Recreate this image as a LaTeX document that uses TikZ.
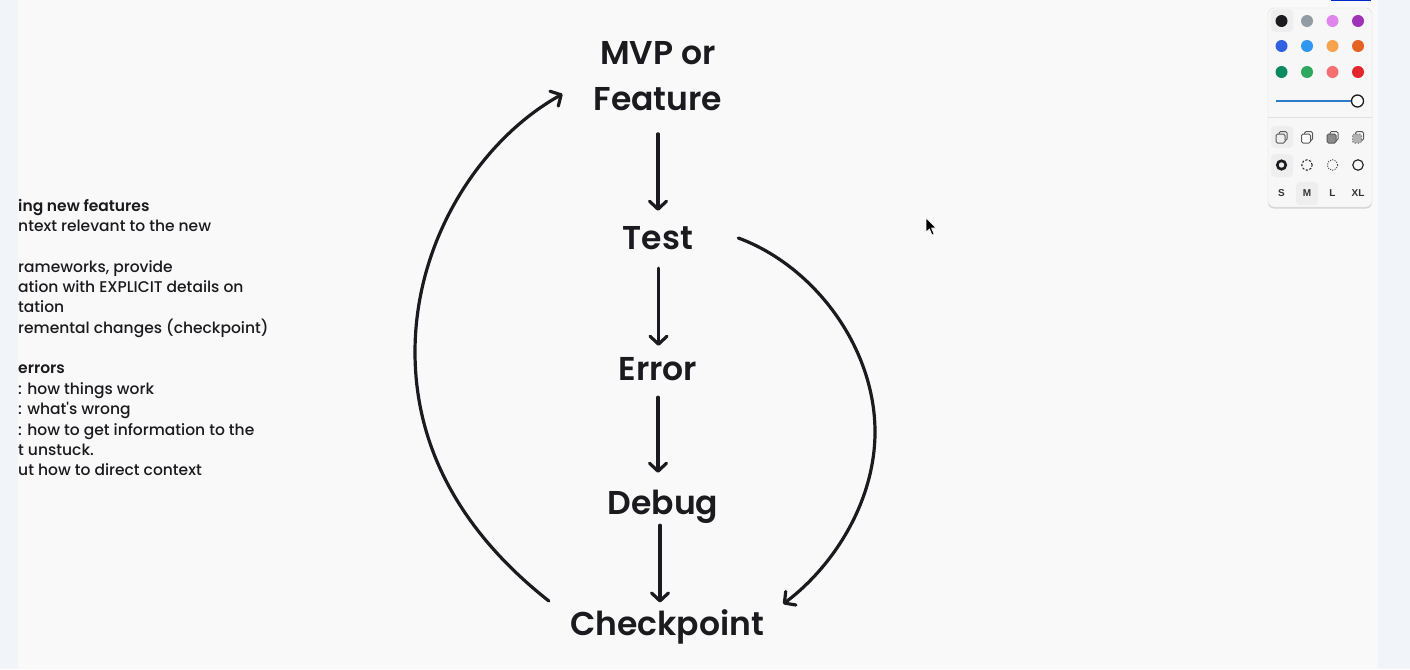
\documentclass[tikz,border=0pt]{standalone}
\usepackage{fontspec}
\usetikzlibrary{arrows.meta,shadows}
\newfontfamily\handfont{Poppins Medium}[BoldFont=Poppins SemiBold]
\setsansfont{Liberation Sans}
\definecolor{pagebg}{HTML}{F9F9F9}
\definecolor{stripbg}{HTML}{F1F5F9}
\definecolor{inkc}{HTML}{1B1B1F}
\definecolor{dotgray}{HTML}{929CA3}
\definecolor{dotpink}{HTML}{E085EC}
\definecolor{dotviolet}{HTML}{A032B8}
\definecolor{dotblue}{HTML}{3160E0}
\definecolor{dotsky}{HTML}{2F97EE}
\definecolor{dotamber}{HTML}{F5A34F}
\definecolor{dotorange}{HTML}{E46323}
\definecolor{dotteal}{HTML}{098A60}
\definecolor{dotgreen}{HTML}{2EA85C}
\definecolor{dotcoral}{HTML}{F76F72}
\definecolor{dotred}{HTML}{E3262E}
\definecolor{sliderc}{HTML}{2A7CC8}
\definecolor{selbg}{HTML}{EEEEEE}
\begin{document}
\begin{tikzpicture}[x=1pt,y=-1pt,every node/.style={inner sep=0pt},
    stage/.style={font=\handfont\bfseries\fontsize{33}{46}\selectfont,text=inkc,
      align=center,minimum height=34pt},
    flow/.style={-{Straight Barb[round,length=8pt,width=17pt]},line width=3.2pt,draw=inkc,line cap=round},
    swatch/.style={circle,minimum size=12pt},
    sizelabel/.style={font=\sffamily\bfseries\fontsize{10}{12}\selectfont,text=black!80},
    iconline/.style={draw=black!65,line width=1pt,rounded corners=1.5pt}]
  \useasboundingbox (0,0) rectangle (1410,669);
  \fill[pagebg] (0,0) rectangle (1410,669);

  % notes on the left, cut off by the side strip
  \node[anchor=north west,align=left,text=inkc,
    font=\handfont\fontsize{15.5}{20.35}\selectfont] (notes) at (18,198.8)
    {\textbf{ing new features}\\
     ntext relevant to the new\\
     \\
     rameworks, provide\\
     ation with EXPLICIT details on\\
     tation\\
     remental changes (checkpoint)\\
     \\
     \textbf{errors}\\
     : how things work\\
     : what's wrong\\
     : how to get information to the\\
     t unstuck.\\
     ut how to direct context};
  \fill[stripbg] (0,0) rectangle (18,669);
  \fill[stripbg] (1378,0) rectangle (1410,669);
  \fill[blue!80!cyan!80!black] (1331,0) rectangle (1371,1.5);

  % the loop
  \node[stage] (feature) at (658,76) {MVP or\\Feature};
  \node[stage] (test) at (658,238) {Test};
  \node[stage] (error) at (658,369) {Error};
  \node[stage] (debug) at (663,506.5) {Debug};
  \node[stage] (checkpoint) at (667,627) {Checkpoint};

  \draw[flow] ([yshift=-23pt]feature.south) -- ([yshift=10pt]test.north);
  \draw[flow,shorten <=13pt,shorten >=6pt] ([xshift=.5pt]test.south) -- ([xshift=.5pt]error.north);
  \draw[flow,shorten <=11pt,shorten >=16.5pt] (error.south) -- ([xshift=-5pt]debug.north);
  \draw[flow,shorten <=1.5pt,shorten >=7pt] ([xshift=-3pt]debug.south) -- ([xshift=-7pt]checkpoint.north);

  \coordinate (rightbulge) at (875,432);
  \coordinate (leftbulge) at (415,352);
  \draw[flow] ([xshift=45pt]test.east) .. controls (814,266) and (875,347) .. (rightbulge)
    .. controls (875,500) and (835,565) .. ([xshift=19pt,yshift=23pt]checkpoint.east);
  \draw[flow] ([xshift=-21pt,yshift=26pt]checkpoint.west) .. controls (479,546) and (415,465) .. (leftbulge)
    .. controls (415,240) and (480,140) .. ([xshift=-31pt,yshift=-18pt]feature.west);

  % mouse pointer
  \filldraw[fill=black,draw=white,line width=0.6pt,line join=round] (926,218) -- (926,232) -- (929.5,229)
    -- (932,235) -- (934,234) -- (931.5,228) -- (936,228) -- cycle;

  % style panel
  \node[draw=black!12,fill=white!97!black,rounded corners=6pt,minimum width=104pt,minimum height=199pt,
    drop shadow={shadow xshift=0pt,shadow yshift=-1.5pt,opacity=0.3}] (panel) at (1320,107.5) {};
  \fill[selbg,rounded corners=4pt] (1271,9.5) rectangle (1293,32);
  \fill[selbg,rounded corners=4pt] (1271,126) rectangle (1293,148);
  \fill[selbg,rounded corners=4pt] (1271,154) rectangle (1293,177);
  \fill[selbg,rounded corners=4pt] (1296,182) rectangle (1318,205);
  \foreach \cx/\cy/\col in {1281.5/21/inkc,1307/21/dotgray,1332.5/21/dotpink,1358/21/dotviolet,
      1281.5/46/dotblue,1307/46/dotsky,1332.5/46/dotamber,1358/46/dotorange,
      1281.5/72/dotteal,1307/72/dotgreen,1332.5/72/dotcoral,1358/72/dotred}
    \node[swatch,fill=\col] (dot-\cx-\cy) at (\cx,\cy) {};

  \node[circle,minimum size=12pt,draw=inkc,line width=1.3pt,fill=white] (thumb) at (1357.5,101) {};
  \coordinate (slidestart) at (1276,101);
  \draw[sliderc,line width=1.5pt] (slidestart) -- (thumb);
  \draw[black!12,line width=0.8pt] (1268,117) -- (1372,117);

  % fill icons
  \foreach \cx in {1281.5,1307,1332.5,1358}{
    \draw[iconline] (\cx-2.5,131.5) rectangle (\cx+5.5,140.5);
  }
  \draw[iconline,fill=selbg] (1276,134) rectangle (1285,143);
  \draw[iconline,fill=white] (1301.5,134) rectangle (1310.5,143);
  \draw[iconline,fill=black!45] (1327,134) rectangle (1336,143);
  \draw[iconline,fill=black!30,dotted] (1352.5,134) rectangle (1361.5,143);

  % stroke icons
  \node[circle,draw=inkc,line width=2.6pt,minimum size=8.5pt] (ringa) at (1281.5,165) {};
  \node[circle,draw=inkc,line width=1pt,dash pattern=on 2.2pt off 1.6pt,minimum size=10.5pt] (ringb) at (1307,165) {};
  \node[circle,draw=black!70,line width=1pt,dash pattern=on 1pt off 1.4pt,minimum size=10.5pt] (ringc) at (1332.5,165) {};
  \node[circle,draw=inkc,line width=1.1pt,minimum size=10.5pt] (ringd) at (1358,165) {};

  \node[sizelabel] (sizes) at (1281.5,193.5) {S};
  \node[sizelabel] (sizem) at (1307,193.5) {M};
  \node[sizelabel] (sizel) at (1332.5,193.5) {L};
  \node[sizelabel] (sizexl) at (1358,193.5) {XL};
\end{tikzpicture}
\end{document}
